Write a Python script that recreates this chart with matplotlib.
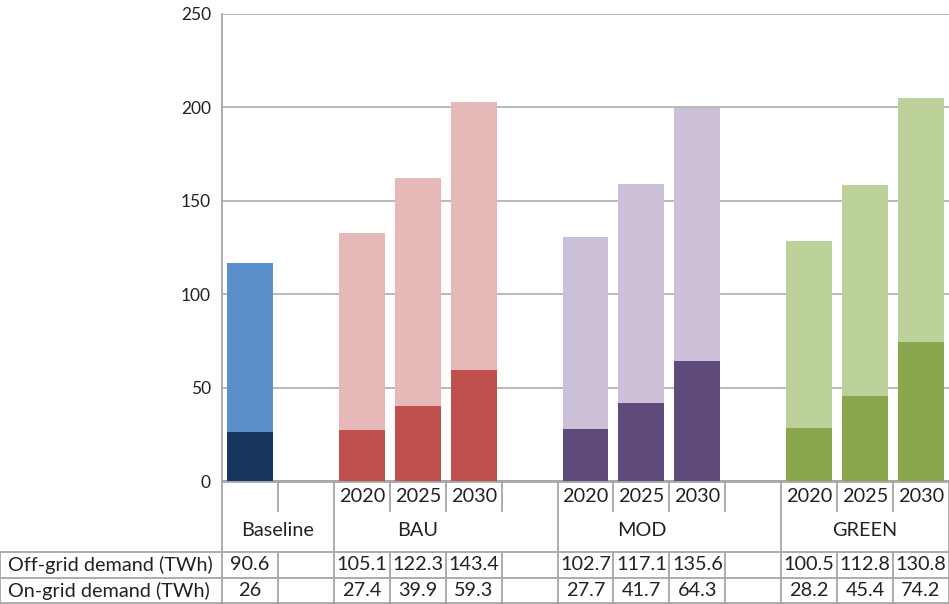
import numpy as np
import matplotlib.pyplot as plt

plt.rcParams['font.family'] = ['Lato', 'DejaVu Sans']

# Scenario groups and the years shown under each bar
groups = ['Baseline', 'BAU', 'MOD', 'GREEN']
years = ['2020', '2025', '2030']

# Demand in TWh, one entry per bar (Baseline first, then BAU/MOD/GREEN x 3 years)
off_grid = [90.6, 105.1, 122.3, 143.4, 102.7, 117.1, 135.6, 100.5, 112.8, 130.8]
on_grid = [26, 27.4, 39.9, 59.3, 27.7, 41.7, 64.3, 28.2, 45.4, 74.2]

# colours per group: (on-grid dark, off-grid light)
colors = {
    'Baseline': ('#17375E', '#5A8FCC'),
    'BAU': ('#C0504D', '#E6B9B8'),
    'MOD': ('#5F4B7B', '#CCC0D9'),
    'GREEN': ('#8AA64C', '#BDD29A'),
}

# slot layout: Baseline, gap, then 3 bars + gap per scenario (last one without gap)
slot_group = []
slot_year = []
slot_idx = []
pos = 0
for g in groups:
    n = 1 if g == 'Baseline' else 3
    for k in range(n):
        slot_group.append(g)
        slot_year.append('' if g == 'Baseline' else years[k])
        slot_idx.append(pos)
        pos += 1
    if g != groups[-1]:
        pos += 1  # empty slot
n_slots = pos

W, H = 949, 604
fig = plt.figure(figsize=(W / 100, H / 100), dpi=100)
ax_l, ax_r, ax_b, ax_t = 222, 949, 481, 14
ax = fig.add_axes([ax_l / W, (H - ax_b) / H, (ax_r - ax_l) / W, (ax_b - ax_t) / H])

x = np.array(slot_idx)
on = np.array(on_grid)
off = np.array(off_grid)
dark = [colors[g][0] for g in slot_group]
light = [colors[g][1] for g in slot_group]
ax.bar(x, on, width=0.82, color=dark, zorder=3)
ax.bar(x, off, width=0.82, bottom=on, color=light, zorder=3)

ax.set_xlim(-0.5, n_slots - 0.5)
ax.set_ylim(0, 250)
ax.set_yticks(np.arange(0, 251, 50))
ax.yaxis.grid(True, color='#B3B3B3', linewidth=1.3, zorder=0)
ax.tick_params(axis='y', length=0, pad=8, labelsize=12.5, labelcolor='#222222')
ax.set_xticks([])
for s in ['top', 'right']:
    ax.spines[s].set_visible(False)
ax.spines['left'].set_color('#A6A6A6')
ax.spines['left'].set_linewidth(1.3)
ax.spines['bottom'].set_color('#A6A6A6')
ax.spines['bottom'].set_linewidth(2)

# data table underneath the bars, built from the same slot layout
ph = ax_b - ax_t
def fy(py):
    # pixel row below the axis -> axes fraction
    return -(py - ax_b) / ph

xt = ax.get_xaxis_transform()
line_kw = dict(color='#A6A6A6', linewidth=1.3, clip_on=False)
fs = 14.3
txt_kw = dict(fontsize=fs, color='#222222', ha='center', va='center', clip_on=False)

y_grp, y_r1, y_end = fy(552), fy(578), fy(603)

# year row separators (short) and group boundaries (full height)
group_start = {}
group_end = {}
for i, g in zip(slot_idx, slot_group):
    group_start.setdefault(g, i)
    group_end[g] = i
bounds_full = [group_start[g] - 0.5 for g in groups] + [n_slots - 0.5]
for b in np.arange(-0.5, n_slots, 1.0):
    if b in bounds_full:
        ax.plot([b, b], [0, y_grp], transform=xt, **line_kw)
    else:
        ax.plot([b, b], [0, fy(511)], transform=xt, **line_kw)
    ax.plot([b, b], [y_grp, y_end], transform=xt, **line_kw)

for i, yr in zip(slot_idx, slot_year):
    if yr:
        ax.text(i, fy(497), yr, transform=xt, **txt_kw)

for g in groups:
    s, e = group_start[g], group_end[g]
    if g == 'Baseline':
        e = s + 1
    ax.text((s + e) / 2, fy(531), g, transform=xt, **txt_kw)

# horizontal rules spanning the row-label column too
left = -ax_l / (ax_r - ax_l)
for yy in [y_grp, y_r1, y_end]:
    ax.plot([left, 1], [yy, yy], transform=ax.transAxes, **line_kw)
ax.plot([left, left], [y_grp, y_end], transform=ax.transAxes, **line_kw)

row_labels = ['Off-grid demand (TWh)', 'On-grid demand (TWh)']
for lab, yy in zip(row_labels, [fy(565), fy(591)]):
    ax.text(left + 8 / (ax_r - ax_l), yy, lab, transform=ax.transAxes,
            fontsize=fs, color='#222222', ha='left', va='center', clip_on=False)

for i, a, b in zip(slot_idx, off_grid, on_grid):
    ax.text(i, fy(565), f'{a:g}', transform=xt, **txt_kw)
    ax.text(i, fy(591), f'{b:g}', transform=xt, **txt_kw)

fig.savefig('out.png', dpi=100)
